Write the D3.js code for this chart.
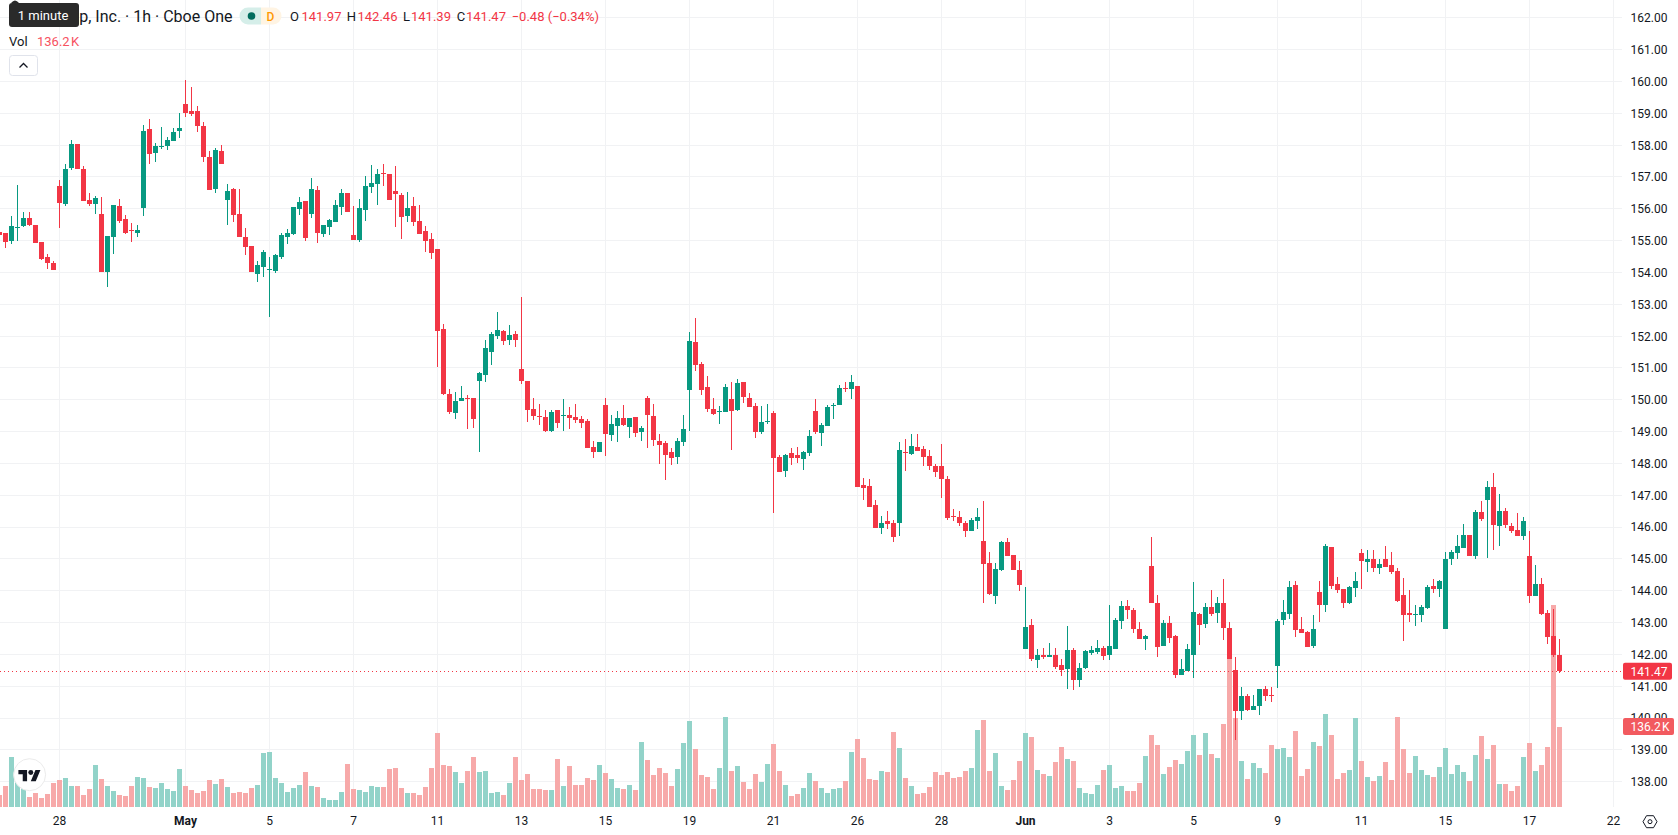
<!DOCTYPE html>
<html>
<head>
<meta charset="utf-8">
<title>Hourly candlesticks with volume</title>
<script src="https://cdn.jsdelivr.net/npm/d3@7"></script>
<style>
  html, body { margin: 0; padding: 0; background: #fff; overflow: hidden; }
  svg { display: block; font-family: "Roboto", "Noto Sans", sans-serif; }
</style>
</head>
<body>
<svg id="chart" width="1678" height="835"></svg>
<script>
// Bar values, oldest first, ten to a row.
const opens = [
155.25,
155.21,154.96,155.38,155.43,155.71,155.49,154.93,154.46,154.27,156.69,
156.13,157.26,158.01,157.23,156.25,156.13,155.81,153.99,155.09,156.06,
155.65,155.31,155.21,156.00,158.48,157.73,157.92,157.95,158.10,158.42,
159.27,159.05,159.05,158.58,157.60,156.60,157.79,156.25,156.60,155.81,
155.09,154.81,153.93,154.15,154.05,154.02,154.46,155.09,155.18,155.97,
156.22,155.81,156.57,155.18,155.40,155.56,156.03,156.47,155.15,154.99,
155.94,156.66,156.75,157.10,157.07,156.53,156.41,155.75,156.06,155.59,
155.28,155.05,154.71,152.20,150.17,149.57,149.95,150.04,150.04,150.57,
150.77,151.48,151.98,152.14,151.85,152.04,150.95,150.57,149.70,149.48,
149.45,149.01,149.67,149.48,149.51,149.45,149.38,149.32,148.51,148.33,
149.82,148.89,149.17,149.42,149.14,149.45,148.98,150.04,149.48,148.70,
148.64,148.35,148.20,148.67,150.29,151.79,151.10,150.39,149.70,149.61,
149.61,150.01,149.67,150.54,150.04,149.79,148.98,149.29,149.57,148.20,
147.76,148.32,148.26,148.14,148.32,149.64,148.95,149.17,149.79,149.82,
150.35,150.32,150.42,147.32,147.29,146.67,145.95,146.17,146.10,146.13,
148.35,148.29,148.51,148.45,148.23,147.92,147.89,147.51,146.32,146.29,
146.13,145.85,146.17,145.55,144.87,143.83,144.64,145.52,145.11,144.64,
142.17,142.90,141.80,141.98,141.92,141.98,141.64,141.54,142.13,141.17,
141.57,142.04,142.07,142.20,141.98,142.17,143.04,143.52,143.39,142.77,
142.48,144.76,143.60,142.26,142.98,142.57,141.35,141.48,141.98,143.26,
142.95,143.48,143.29,143.60,142.82,141.51,140.20,140.68,140.23,140.36,
140.90,140.71,141.61,143.08,143.27,144.18,142.80,142.68,142.24,143.96,
143.55,145.37,144.21,144.05,143.61,144.08,145.18,144.90,144.99,144.71,
144.99,144.81,144.62,143.86,143.30,143.24,143.24,143.43,144.15,144.05,
142.77,144.99,145.18,145.33,145.74,145.08,146.45,146.85,147.23,146.01,
146.48,146.01,145.90,145.71,145.08,143.81,144.21,143.30,142.55,141.97
];
const highs = [
155.25,
155.24,155.75,156.72,155.87,155.87,155.49,154.93,154.58,154.36,156.88,
157.38,158.14,158.01,157.32,156.47,156.38,156.35,155.12,156.09,156.28,
155.78,155.53,155.47,158.61,158.80,158.04,158.54,158.23,158.51,159.01,
160.02,159.80,159.20,158.70,157.79,157.88,157.98,156.75,156.63,156.60,
155.37,154.81,154.34,154.68,154.46,154.55,155.21,155.34,156.03,156.35,
156.22,156.94,156.69,155.47,155.65,156.25,156.60,156.47,156.06,156.28,
157.01,157.35,157.23,157.38,157.07,157.32,156.47,156.50,156.35,156.09,
155.43,155.21,154.71,152.36,150.32,150.23,150.42,150.13,150.04,150.85,
151.85,152.10,152.73,152.17,152.32,152.14,153.23,150.57,150.04,149.85,
149.67,149.67,149.67,150.01,149.76,149.85,149.48,149.38,148.70,148.67,
150.04,149.51,149.64,149.82,149.42,149.45,149.17,150.10,149.85,148.92,
148.70,148.48,148.79,149.51,152.10,152.54,151.17,150.73,150.04,149.80,
150.48,150.54,150.64,150.54,150.20,149.89,149.79,149.85,149.64,148.26,
148.29,148.48,148.51,148.39,149.04,150.01,149.26,149.82,149.89,150.45,
150.54,150.76,150.42,147.54,147.51,146.83,146.35,146.48,146.20,148.67,
148.76,148.92,148.92,148.54,148.42,147.98,148.60,147.60,146.54,146.48,
146.17,146.26,146.58,146.79,145.21,144.87,145.55,145.65,145.11,144.92,
144.10,143.10,142.17,142.20,142.35,142.20,141.83,142.88,142.20,141.73,
142.13,142.26,142.45,142.26,143.54,143.14,143.67,143.70,143.45,143.01,
142.60,145.67,143.85,143.07,143.20,142.60,141.83,142.32,144.26,143.29,
143.60,144.01,143.79,144.35,143.01,141.89,140.96,140.74,140.71,140.90,
141.00,140.96,143.11,143.71,144.30,144.30,143.15,142.71,143.24,144.30,
145.46,145.37,144.43,144.05,144.15,144.58,145.30,145.27,145.27,144.99,
145.40,145.21,144.71,144.40,144.02,143.55,143.55,144.18,144.37,144.33,
145.21,145.27,145.74,146.07,145.74,146.51,146.79,147.42,147.67,147.04,
146.60,146.10,146.42,146.29,145.87,144.80,144.40,143.37,143.40,142.46
];
const lows = [
155.16,
154.74,154.87,154.96,155.40,155.46,154.90,154.39,154.08,154.05,155.37,
156.06,157.19,157.23,156.22,156.06,155.81,153.99,153.52,154.55,155.53,
155.18,154.93,155.09,155.75,157.38,157.44,157.85,157.82,158.10,158.20,
158.86,158.89,158.39,157.45,156.57,156.47,157.38,155.47,155.56,155.09,
154.52,153.99,153.68,153.83,152.58,153.96,154.40,154.87,155.15,155.78,
154.96,155.69,154.90,155.09,155.15,155.56,155.78,155.88,154.99,154.93,
155.59,156.47,156.09,156.69,156.25,155.40,155.03,155.56,155.43,155.18,
154.62,154.40,151.02,150.14,149.54,149.39,149.95,149.07,149.10,148.35,
150.55,151.07,151.89,151.70,151.70,151.65,150.48,149.29,149.35,149.20,
148.98,148.98,149.10,149.01,149.07,149.26,149.10,148.48,148.17,148.33,
148.23,148.70,148.65,149.17,148.77,148.82,148.70,148.48,148.54,147.96,
147.47,147.95,147.98,148.54,149.01,150.88,150.13,149.60,149.51,149.23,
149.61,148.42,149.64,149.89,149.76,148.77,148.92,149.23,146.42,147.73,
147.56,147.95,148.01,147.77,148.23,148.92,148.54,149.17,149.39,149.82,
150.23,150.01,147.23,146.83,146.63,145.95,145.76,145.92,145.53,145.72,
147.76,148.26,148.38,147.92,147.79,147.57,146.89,146.20,146.17,146.01,
145.66,145.85,145.92,143.60,143.84,143.56,144.61,145.08,144.64,143.98,
142.17,141.77,141.55,141.83,141.89,141.54,141.32,140.89,140.86,140.95,
141.54,141.98,142.01,141.80,141.80,142.17,142.79,143.10,142.67,142.48,
142.13,143.60,141.92,142.26,142.35,141.23,141.35,141.45,141.23,142.29,
142.83,143.20,142.98,142.45,141.83,139.29,139.92,140.20,140.23,140.07,
140.52,140.49,140.93,142.90,143.11,142.52,142.65,142.21,142.18,143.02,
143.33,144.05,143.90,143.45,143.58,143.80,144.05,144.58,144.58,144.52,
144.74,144.52,143.64,142.40,142.99,142.87,143.02,143.40,143.93,143.80,
142.77,144.80,144.99,145.33,145.08,144.99,146.17,145.02,145.28,145.40,
145.95,145.80,145.71,145.59,143.59,143.81,143.24,142.30,141.90,141.39
];
const closes = [
155.16,
154.93,155.43,155.41,155.71,155.49,154.90,154.42,154.27,154.07,156.16,
157.23,158.01,157.23,156.22,156.13,156.31,153.99,155.12,156.09,155.59,
155.21,155.28,155.31,158.42,157.70,157.95,157.95,158.14,158.39,158.51,
158.98,158.95,158.58,157.60,156.57,157.82,157.38,156.53,155.78,155.09,
154.77,153.99,154.21,154.62,154.08,154.52,155.15,155.21,156.03,156.19,
155.06,156.60,155.21,155.47,155.62,156.09,156.47,155.88,154.99,156.00,
156.69,156.79,157.07,157.07,156.25,156.44,155.72,156.00,155.56,155.18,
154.96,154.59,152.14,150.17,149.60,149.95,150.04,150.01,149.39,150.82,
151.60,152.04,152.17,151.83,152.01,151.85,150.57,149.67,149.48,149.45,
149.01,149.60,149.26,149.51,149.41,149.35,149.26,148.48,148.33,148.67,
148.92,149.23,149.42,149.20,149.42,148.95,149.10,149.51,148.73,148.57,
148.26,148.17,148.70,149.07,151.82,151.07,150.29,149.70,149.54,149.64,
150.39,149.64,150.51,150.07,149.76,148.98,149.29,149.32,148.17,147.73,
148.26,148.17,148.17,148.35,148.85,148.98,149.20,149.76,149.82,150.35,
150.32,150.54,147.23,147.20,146.63,145.95,146.13,146.07,145.66,148.42,
148.32,148.54,148.38,148.20,147.89,147.73,147.51,146.26,146.29,146.10,
145.85,146.20,146.29,144.84,143.87,144.67,145.52,145.08,144.64,144.17,
142.85,141.83,141.98,141.92,141.98,141.60,141.51,142.13,141.17,141.57,
142.10,142.13,142.20,141.95,142.26,143.07,143.52,143.39,142.77,142.48,
142.57,143.60,142.23,142.98,142.51,141.35,141.54,142.17,143.32,142.92,
143.48,143.26,143.60,142.82,141.85,140.20,140.68,140.23,140.36,140.90,
140.68,140.68,143.05,143.33,144.11,142.74,142.65,142.21,142.80,143.55,
145.40,144.15,144.02,143.61,144.11,144.30,144.93,144.99,144.71,144.84,
144.74,144.58,143.67,143.24,143.21,143.27,143.46,144.11,144.05,144.30,
144.99,145.21,145.40,145.74,145.08,146.45,146.23,147.26,146.04,146.48,
146.04,145.87,145.71,146.17,143.81,144.21,143.27,142.52,141.96,141.47
];
// Volume per bar, in thousands of shares.
const volumes = [
20.3,
35.6,84.7,65.5,31.6,16.9,23.7,15.2,22.0,40.7,45.7,
49.1,35.6,35.6,20.3,30.5,71.2,47.4,35.6,27.1,20.3,
18.6,35.6,50.8,49.1,33.9,32.2,40.7,30.5,27.1,64.4,
35.6,28.8,23.7,27.1,45.7,39.0,47.4,33.9,23.7,25.4,
23.7,32.2,37.3,91.5,93.2,49.1,40.7,25.4,32.2,37.3,
59.3,35.6,33.9,15.2,11.9,11.9,25.4,72.8,30.5,28.8,
25.4,35.6,33.9,33.9,64.4,66.1,32.2,23.7,23.7,20.3,
33.9,66.1,125.4,71.2,69.5,59.3,40.7,61.0,84.7,59.3,
61.0,23.7,25.4,20.3,40.7,84.7,45.7,55.9,30.5,30.5,
28.8,28.8,81.3,35.6,69.5,37.3,37.3,49.1,45.7,71.2,
57.6,47.4,32.2,30.5,37.3,28.8,110.1,79.6,54.2,66.1,
57.6,35.6,64.4,108.4,145.7,98.3,54.2,50.8,30.5,66.1,
152.5,61.0,69.5,42.4,30.5,55.9,42.4,72.8,106.7,61.0,
37.3,18.6,22.0,32.2,57.6,44.0,32.2,23.7,30.5,32.2,
44.0,93.2,115.2,83.0,47.4,45.7,61.0,59.3,127.1,100.0,
49.1,35.6,22.0,23.7,33.9,59.3,54.2,59.3,49.1,50.8,
61.0,66.1,130.4,147.4,61.0,91.5,35.6,28.8,45.7,77.9,
125.4,118.6,62.7,55.9,52.5,76.2,101.6,81.3,77.9,32.2,
23.7,22.0,37.3,62.7,71.2,32.2,35.6,27.1,27.1,40.7,
86.4,122.0,105.0,55.9,67.8,79.6,72.8,94.9,122.0,88.1,
125.4,89.8,83.0,140.6,250.7,150.8,77.9,47.4,74.5,66.1,
57.6,105.0,98.3,100.0,84.7,128.8,52.5,64.4,110.1,103.3,
157.6,122.0,47.4,57.6,62.7,150.8,77.9,50.8,44.0,52.5,
76.2,45.7,152.5,98.3,57.6,86.4,62.7,54.2,50.8,67.8,
100.0,55.9,71.2,59.3,44.0,88.1,120.3,81.3,105.0,39.0,
39.0,27.1,35.6,84.7,108.4,61.0,71.2,101.6,342.2,136.2
];

// Session labels on the time axis and the bar each one sits on.
const dateLabels = ["28","May","5","7","11","13","15","19","21","26","28","Jun","3","5","9","11","15","17","22"];
const dateBars = [10,31,45,59,73,87,101,115,129,143,157,171,185,199,213,227,241,255,269];
const monthLabels = ["May","Jun"];

const priceTicks = d3.range(138, 163);
const lastPrice = 141.47;
const lastVolume = 136.2;

const upColor = "#089981", downColor = "#F23645";
const volUp = "#92D3C9", volDown = "#F7A9A9";
const gridColor = "#F1F2F4", inkColor = "#131722";

const paneRight = 1622, paneBottom = 807;

const x = d3.scaleLinear().domain([0, 270]).range([-0.5, 1619.5]);
const y = d3.scaleLinear().domain([138, 162]).range([781.8, 17.84]);
const yVol = d3.scaleLinear().domain([0, lastVolume]).range([paneBottom, 726.6]);

const svg = d3.select("#chart");
const bars = d3.range(opens.length);
const crisp = v => Math.floor(v);

// Grid
const grid = svg.append("g").attr("fill", gridColor);
grid.selectAll("rect.h").data(priceTicks).join("rect").attr("class", "h")
  .attr("x", 0).attr("width", paneRight).attr("height", 1)
  .attr("y", d => crisp(y(d)));
grid.selectAll("rect.v").data(dateBars).join("rect").attr("class", "v")
  .attr("y", 0).attr("height", paneBottom).attr("width", 1)
  .attr("x", d => Math.floor(x(d)));

// Volume histogram sits under the candles
svg.append("g").selectAll("rect").data(bars).join("rect")
  .attr("x", i => x(i) - 2.5).attr("width", 5)
  .attr("y", i => Math.round(yVol(volumes[i])))
  .attr("height", i => paneBottom - Math.round(yVol(volumes[i])))
  .attr("fill", i => closes[i] < opens[i] ? volDown : volUp);

// Last price line
svg.append("line")
  .attr("x1", 0).attr("x2", paneRight)
  .attr("y1", crisp(y(lastPrice)) + 0.5).attr("y2", crisp(y(lastPrice)) + 0.5)
  .attr("stroke", downColor).attr("stroke-width", 1).attr("stroke-dasharray", "1 3");

// Candles
const candle = svg.append("g").selectAll("g").data(bars).join("g")
  .attr("fill", i => closes[i] < opens[i] ? downColor : upColor);
candle.append("rect")
  .attr("x", i => x(i) - 0.5).attr("width", 1)
  .attr("y", i => crisp(y(highs[i])))
  .attr("height", i => Math.max(1, crisp(y(lows[i])) - crisp(y(highs[i]))));
candle.append("rect")
  .attr("x", i => x(i) - 2.5).attr("width", 5)
  .attr("y", i => crisp(y(Math.max(opens[i], closes[i]))))
  .attr("height", i => Math.max(1, crisp(y(Math.min(opens[i], closes[i]))) - crisp(y(Math.max(opens[i], closes[i])))));

// Axes
const priceAxis = d3.axisRight(y).tickValues(priceTicks).tickSize(0).tickPadding(8.5).tickFormat(d3.format(".2f"));
const gy = svg.append("g").attr("transform", `translate(${paneRight},0)`).call(priceAxis);
gy.select(".domain").remove();
gy.selectAll("text").attr("fill", inkColor).attr("font-size", 12).attr("font-family", "Roboto");

const timeAxis = d3.axisBottom(x).tickValues(dateBars).tickSize(0).tickPadding(9)
  .tickFormat(d => dateLabels[dateBars.indexOf(d)]);
const gx = svg.append("g").attr("transform", `translate(-0.5,${paneBottom})`).call(timeAxis);
gx.select(".domain").remove();
gx.selectAll("text").attr("fill", inkColor).attr("font-size", 12).attr("font-family", "Roboto")
  .attr("font-weight", d => monthLabels.includes(dateLabels[dateBars.indexOf(d)]) ? 700 : 400);

// Value tags on the price axis
function tag(cy, w, fill, label) {
  const g = svg.append("g");
  g.append("rect").attr("x", 1623).attr("y", cy - 8.5).attr("width", w).attr("height", 17).attr("rx", 2).attr("fill", fill);
  g.append("text").attr("x", 1630.5).attr("y", cy + 4.2).attr("fill", "#fff").attr("font-size", 12)
    .attr("word-spacing", -1.5).text(label);
}
tag(y(lastPrice), 49, downColor, d3.format(".2f")(lastPrice));
tag(yVol(lastVolume), 51, "#F25A5F", `${lastVolume} K`);

// Legend rows
const legend = svg.append("g").attr("font-size", 13);
legend.append("text").attr("x", 232.5).attr("y", 21.5).attr("text-anchor", "end")
  .attr("font-size", 16).attr("fill", inkColor).text("Group, Inc. · 1h · Cboe One");

const pill = svg.append("g");
pill.append("path").attr("d", "M261 7.5H248a8.5 8.5 0 0 0 0 17H261Z").attr("fill", "#D5EEE9");
pill.append("path").attr("d", "M261 7.5H273a8.5 8.5 0 0 1 0 17H261Z").attr("fill", "#FFF4E3");
pill.append("circle").attr("cx", 251.5).attr("cy", 16).attr("r", 3.8).attr("fill", "#006D5E");
pill.append("text").attr("x", 270.5).attr("y", 20.5).attr("text-anchor", "middle")
  .attr("font-size", 12).attr("font-weight", 500).attr("fill", "#FF9800").text("D");

const ohlcKeys = ["O", "H", "L", "C"];
const ohlcKeyX = [290, 346.8, 403, 456.7];
const ohlcValX = [301.5, 357.5, 411, 466];
const ohlcVals = [141.97, 142.46, 141.39, 141.47];
ohlcKeys.forEach((k, i) => {
  legend.append("text").attr("x", ohlcKeyX[i]).attr("y", 20.5).attr("fill", inkColor).text(k);
  legend.append("text").attr("x", ohlcValX[i]).attr("y", 20.5).attr("fill", downColor).text(ohlcVals[i].toFixed(2));
});
legend.append("text").attr("x", 511.7).attr("y", 20.5).attr("fill", downColor).text("−0.48 (−0.34%)");
legend.append("text").attr("x", 9).attr("y", 45.5).attr("fill", inkColor).text("Vol");
legend.append("text").attr("x", 37).attr("y", 45.5).attr("fill", "#F7525F").attr("word-spacing", -2).text("136.2 K");

// Collapse button
svg.append("rect").attr("x", 9.5).attr("y", 55.5).attr("width", 28).attr("height", 20).attr("rx", 3)
  .attr("fill", "#fff").attr("stroke", "#E0E3EB");
svg.append("path").attr("d", "M19.5 67.5L23.5 63.5L27.5 67.5").attr("fill", "none").attr("stroke", inkColor).attr("stroke-width", 1.3);

// Interval tooltip
const tip = svg.append("g");
tip.append("path").attr("d", "M11 3Q15 -2 19 3Z").attr("fill", "#2A2A2A");
tip.append("rect").attr("x", 9).attr("y", 3).attr("width", 70).attr("height", 24).attr("rx", 3).attr("fill", "#2A2A2A");
tip.append("text").attr("x", 43).attr("y", 20).attr("text-anchor", "middle").attr("fill", "#fff").attr("font-size", 13).text("1 minute");

// Brand badge
const badge = svg.append("g");
badge.append("circle").attr("cx", 29.6).attr("cy", 774.7).attr("r", 16).attr("fill", "#fff").attr("stroke", "#EBEBEB").attr("stroke-width", 1);
const mark = badge.append("g").attr("transform", "translate(18.4,767.5) scale(0.62)").attr("fill", "#131722");
mark.append("path").attr("d", "M14 22H7V11H0V4h14v18zM28 22h-8l7.5-18h8L28 22z");
mark.append("circle").attr("cx", 20).attr("cy", 8).attr("r", 4);

// Settings gear
const gear = svg.append("g").attr("transform", "translate(1650,821.7)").attr("fill", "none").attr("stroke", inkColor).attr("stroke-width", 1);
gear.append("path").attr("d", "M-7 0L-3.5 -6H3.5L7 0L3.5 6H-3.5Z");
gear.append("circle").attr("r", 2);
</script>
</body>
</html>
